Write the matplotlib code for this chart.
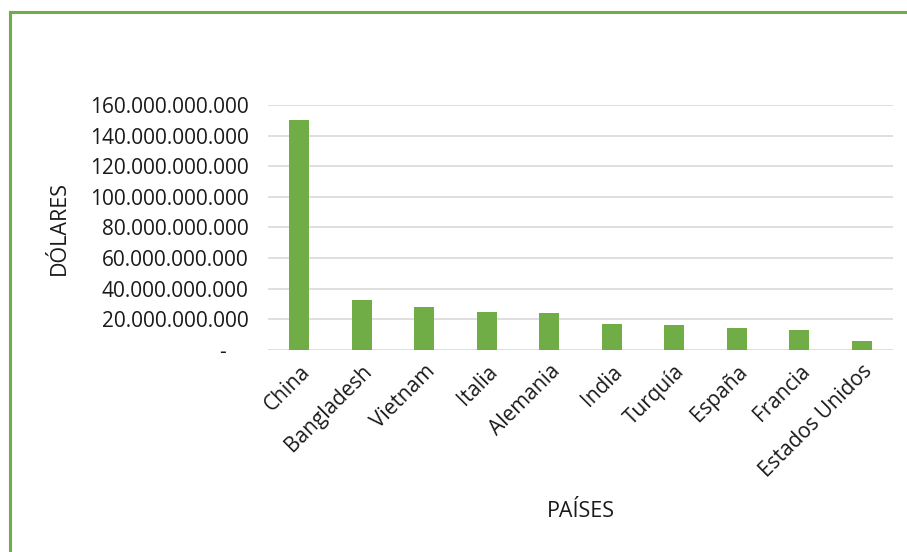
import matplotlib
import numpy as np
import matplotlib.pyplot as plt
from matplotlib.ticker import FuncFormatter
from matplotlib.lines import Line2D

matplotlib.use("Agg")
plt.rcParams['font.family'] = ['Open Sans', 'DejaVu Sans']

paises = ['China', 'Bangladesh', 'Vietnam', 'Italia', 'Alemania', 'India',
          'Turquía', 'España', 'Francia', 'Estados Unidos']
dolares = [150.2e9, 32.7e9, 27.9e9, 24.8e9, 24.0e9, 16.8e9,
           16.3e9, 14.4e9, 12.9e9, 5.7e9]


def fmt(v, pos):
    if v == 0:
        return '-    '
    return f'{int(v):,}'.replace(',', '.')


fig = plt.figure(figsize=(9.07, 5.52), dpi=100)
ax = fig.add_axes([0.2955, 0.366, 0.689, 0.444])

x = np.arange(len(paises))
ax.bar(x, dolares, width=0.32, color='#70AD47', zorder=3)
ax.set_xlim(-0.5, len(paises) - 0.5)
ax.set_ylim(0, 160e9)
ax.set_yticks(np.arange(0, 160e9 + 1, 20e9))
ax.yaxis.set_major_formatter(FuncFormatter(fmt))
ax.grid(axis='y', color='#D9D9D9', linewidth=1.2, zorder=0)
ax.set_xticks(x)
ax.set_xticklabels(paises, rotation=45, ha='right', rotation_mode='anchor')
ax.tick_params(length=0, labelsize=15, colors='#1a1a1a', pad=8)
ax.tick_params(axis='y', pad=14)
for s in ax.spines.values():
    s.set_visible(False)

fig.text(0.066, 0.587, 'DÓLARES', rotation=90, ha='center', va='center',
         fontsize=15.5, color='#1a1a1a')
fig.text(0.64, 0.073, 'PAÍSES', ha='center', va='center',
         fontsize=15.5, color='#1a1a1a')

# green chart border (left and top only, rest cropped)
fig.add_artist(Line2D([0.0115, 0.0115], [0, 0.978], color='#70AD47', lw=2.2,
                      transform=fig.transFigure))
fig.add_artist(Line2D([0.0115, 1.0], [0.978, 0.978], color='#70AD47', lw=2.2,
                      transform=fig.transFigure))

fig.savefig('out.png', dpi=100)
